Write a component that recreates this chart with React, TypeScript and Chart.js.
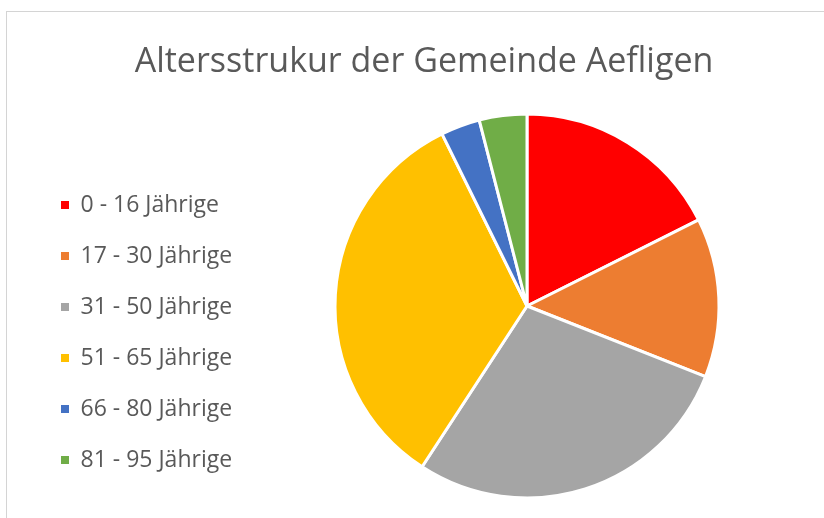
import React, { useEffect, useRef } from "react";
import { Chart, registerables } from "chart.js";

Chart.register(...registerables);

const TITLE = "Altersstrukur der Gemeinde Aefligen";
const categories = [
  "0 - 16 Jährige",
  "17 - 30 Jährige",
  "31 - 50 Jährige",
  "51 - 65 Jährige",
  "66 - 80 Jährige",
  "81 - 95 Jährige",
];
const shares = [17.6, 13.4, 28.2, 33.5, 3.3, 4.0];
const colors = ["#FF0000", "#ED7D31", "#A5A5A5", "#FFC000", "#4472C4", "#70AD47"];

const FONT = "'Open Sans', 'Noto Sans', sans-serif";

export default function App() {
  const ref = useRef<HTMLCanvasElement | null>(null);

  useEffect(() => {
    if (!ref.current) return;
    const chart = new Chart(ref.current, {
      type: "pie",
      data: {
        labels: categories,
        datasets: [
          {
            data: shares,
            backgroundColor: colors,
            borderColor: "#FFFFFF",
            borderWidth: 3,
            radius: 192,
          } as any,
        ],
      },
      options: {
        animation: false,
        responsive: false,
        maintainAspectRatio: false,
        layout: { padding: { left: 33, right: 9, top: 0, bottom: 18.5 } },
        plugins: {
          tooltip: { enabled: false },
          title: {
            display: true,
            text: TITLE,
            color: "#595959",
            font: { family: FONT, size: 34, weight: "normal" as any },
            padding: { top: 41.6, bottom: 30.1 },
          },
          legend: {
            display: true,
            position: "left",
            align: "end",
            maxWidth: 206,
            labels: {
              boxWidth: 8,
              boxHeight: 8,
              padding: 28,
              color: "#595959",
              font: { family: FONT, size: 23 },
              generateLabels: (c: any) => {
                const items = Chart.overrides.pie.plugins.legend.labels.generateLabels(c);
                return items.map((it: any) => ({ ...it, lineWidth: 0, strokeStyle: "rgba(0,0,0,0)" }));
              },
            },
          },
        },
      },
    });
    return () => chart.destroy();
  }, []);

  return (
    <div style={{ position: "fixed", left: 0, top: 0, width: 824, height: 518, overflow: "hidden", background: "#fff" }}>
      <div
        style={{
          position: "absolute",
          left: 6,
          top: 11,
          width: 900,
          height: 600,
          borderLeft: "1px solid #d4d4d4",
          borderTop: "1px solid #d4d4d4",
        }}
      />
      <canvas ref={ref} width={824} height={518} style={{ position: "absolute", left: 0, top: 0, width: 824, height: 518 }} />
    </div>
  );
}
